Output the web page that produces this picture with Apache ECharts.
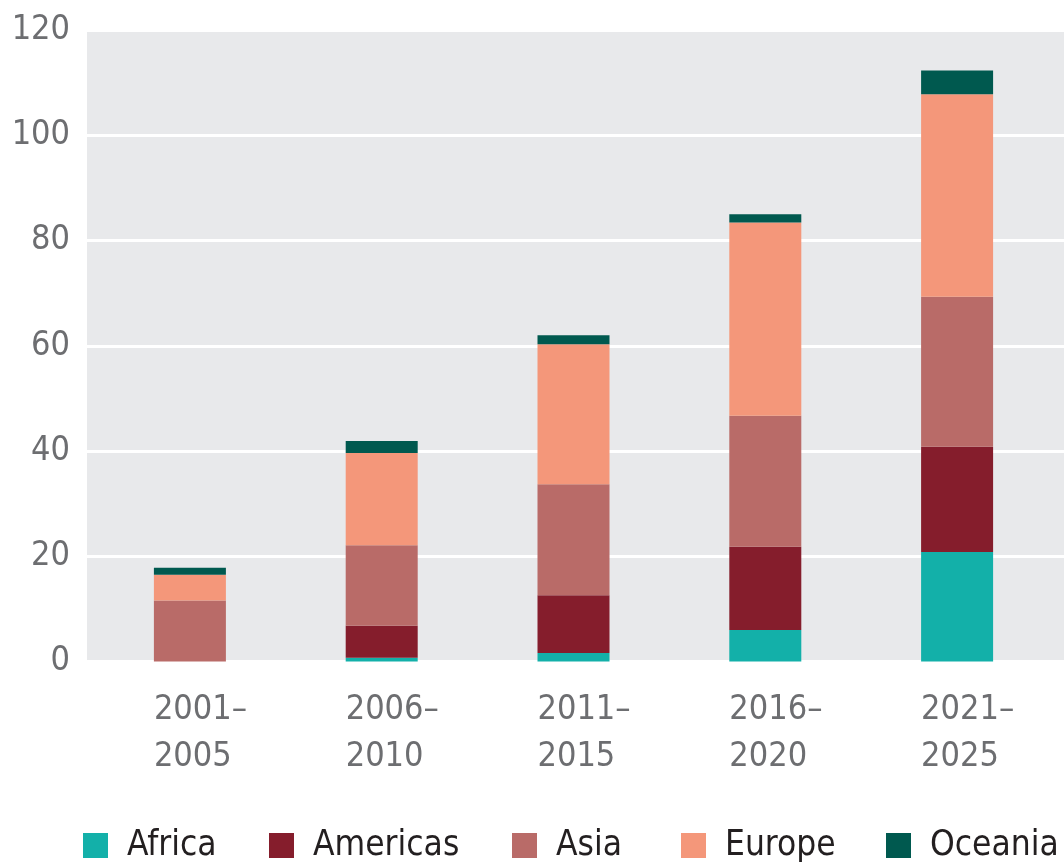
<!DOCTYPE html>
<html>
<head>
<meta charset="utf-8">
<script src="https://cdn.jsdelivr.net/npm/echarts@6/dist/echarts.min.js"></script>
<style>
  html, body { margin: 0; padding: 0; background: #fff; }
  #chart { width: 1064px; height: 867px; }
</style>
</head>
<body>
<div id="chart"></div>
<script>
// periods on the x axis
var periods = ['2001–\n2005', '2006–\n2010', '2011–\n2015', '2016–\n2020', '2021–\n2025'];

// stacked values per region
var africa   = [0,    0.7,  1.6,  6.0,  20.8];
var americas = [0,    6.1,  11.0, 15.8, 20.0];
var asia     = [11.6, 15.3, 21.1, 24.9, 28.5];
var europe   = [4.9,  17.5, 26.6, 36.7, 38.5];
var oceania  = [1.3,  2.3,  1.7,  1.6,  4.5];

var regions = ['Africa', 'Americas', 'Asia', 'Europe', 'Oceania'];
var colors = ['#13b0a9', '#851d2c', '#b96b68', '#f4977a', '#00594f'];
// x of each legend square
var legendLeft = [83, 269, 512, 681, 886];

var font = '"DejaVu Sans Condensed", "DejaVu Sans", sans-serif';

var chart = echarts.init(document.getElementById('chart'));

function bar(name, data, color) {
    return {
        name: name,
        type: 'bar',
        stack: 'total',
        xAxisIndex: 1,
        yAxisIndex: 1,
        barWidth: 72,
        data: data,
        itemStyle: { color: color },
        emphasis: { disabled: true }
    };
}

// one legend per item so each sits where the original puts it
var legends = regions.map(function (name, i) {
    return {
        data: [name],
        left: legendLeft[i],
        top: 828,
        padding: 0,
        icon: 'rect',
        itemWidth: 25,
        itemHeight: 25,
        selectedMode: false,
        textStyle: {
            fontFamily: font,
            fontSize: 35,
            color: '#231f20',
            padding: [0, 0, 0, 14]
        }
    };
});

var option = {
    animation: false,
    textStyle: { fontFamily: font },
    grid: [
        // grey panel + grid lines
        { left: 87, right: 0, top: 30, bottom: 205.5, show: true, backgroundColor: '#e8e9eb', borderWidth: 0 },
        // bars
        { left: 94, right: 11, top: 30, bottom: 205.5 }
    ],
    legend: legends,
    xAxis: [
        { gridIndex: 0, type: 'value', show: false, min: 0, max: 1 },
        {
            gridIndex: 1,
            type: 'category',
            data: periods,
            axisLine: { show: false },
            axisTick: { show: false },
            axisLabel: {
                margin: 25,
                formatter: function (v) {
                    return v.split('\n').map(function (s) { return '{a|' + s + '}'; }).join('\n');
                },
                rich: {
                    a: {
                        width: 72,
                        align: 'left',
                        fontFamily: font,
                        fontSize: 34,
                        lineHeight: 47,
                        color: '#6d6e71'
                    }
                }
            }
        }
    ],
    yAxis: [
        {
            gridIndex: 0,
            type: 'value',
            min: 0,
            max: 120,
            interval: 20,
            axisLine: { show: false },
            axisTick: { show: false },
            axisLabel: { margin: 17, fontFamily: font, fontSize: 34, color: '#6d6e71' },
            splitLine: { lineStyle: { color: '#ffffff', width: 3 } }
        },
        { gridIndex: 1, type: 'value', min: 0, max: 120, show: false }
    ],
    series: [
        bar('Africa', africa, colors[0]),
        bar('Americas', americas, colors[1]),
        bar('Asia', asia, colors[2]),
        bar('Europe', europe, colors[3]),
        bar('Oceania', oceania, colors[4])
    ]
};

chart.setOption(option);
</script>
</body>
</html>
